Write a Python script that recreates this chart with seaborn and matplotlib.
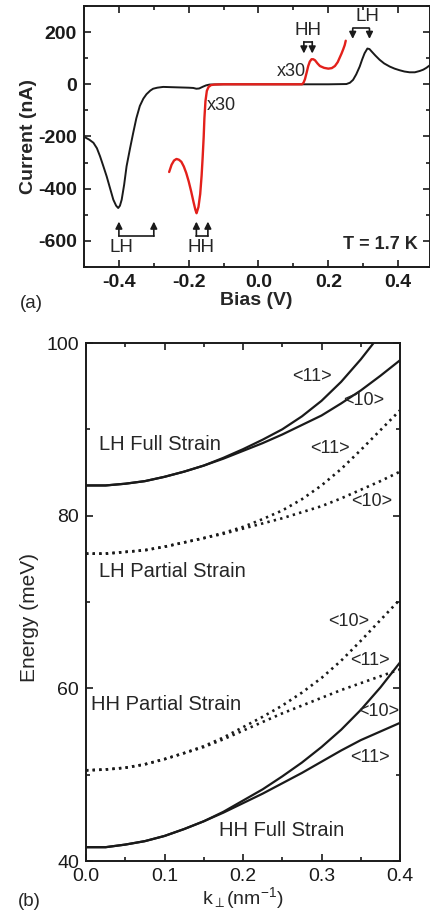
import numpy as np
import pandas as pd
import matplotlib
matplotlib.use('Agg')
import matplotlib.pyplot as plt
from matplotlib.ticker import MultipleLocator, FormatStrFormatter
import seaborn as sns

# ---- panel (a): I-V curves ----
bias_black = [-0.500, -0.485, -0.473, -0.463, -0.454, -0.445, -0.435, -0.425, -0.416, -0.408,
              -0.402, -0.397, -0.392, -0.385, -0.378, -0.368, -0.359, -0.350, -0.340, -0.330,
              -0.321, -0.310, -0.302, -0.290, -0.273, -0.250, -0.225, -0.200, -0.187, -0.178,
              -0.170, -0.159, -0.150, -0.140, -0.100, 0.000, 0.100, 0.200, 0.252, 0.262,
              0.271, 0.280, 0.290, 0.297, 0.304, 0.312, 0.318, 0.324, 0.335, 0.347,
              0.360, 0.376, 0.390, 0.404, 0.418, 0.433, 0.448, 0.462, 0.472, 0.481, 0.490]
current_black = [-201, -212, -224, -245, -276, -312, -353, -400, -442, -465,
                 -474, -465, -442, -385, -314, -245, -186, -130, -83, -55,
                 -38, -24, -17, -13, -10, -11, -12, -13, -14, -17,
                 -16, -9, -4, -1, 0, 0, 0, 0, 1, 6,
                 17, 38, 68, 95, 119, 137, 135, 126, 110, 94,
                 80, 68, 60, 54, 49, 46, 46, 51, 56, 63, 72]

bias_red = [-0.256, -0.249, -0.242, -0.235, -0.228, -0.221, -0.214, -0.207, -0.200, -0.193,
            -0.186, -0.181, -0.1775, -0.172, -0.167, -0.163, -0.160, -0.157, -0.155, -0.152,
            -0.148, -0.143, -0.136, -0.126, -0.100, 0.000, 0.100, 0.125, 0.129, 0.133,
            0.138, 0.1425, 0.147, 0.152, 0.157, 0.162, 0.169, 0.176, 0.188, 0.200,
            0.210, 0.219, 0.227, 0.233, 0.238, 0.243, 0.247, 0.250]
current_red = [-336, -308, -292, -286, -289, -297, -315, -340, -372, -410,
               -452, -480, -494, -470, -420, -350, -280, -200, -130, -65,
               -25, -10, -3, -1, 0, 0, 0, 0, 6, 19,
               45, 70, 87, 96, 96, 92, 80, 70, 63, 60,
               62, 70, 85, 103, 118, 135, 150, 167]

# ---- panel (b): dispersion ----
k_perp = [0.0, 0.025, 0.05, 0.075, 0.1, 0.125, 0.15, 0.175, 0.2, 0.225,
          0.25, 0.275, 0.3, 0.325, 0.35, 0.375, 0.4]
lh_full_10 = [83.5, 83.5, 83.7, 84.0, 84.5, 85.1, 85.8, 86.6, 87.5, 88.4,
              89.4, 90.5, 91.6, 93.0, 94.5, 96.2, 98.0]
lh_full_11 = [83.5, 83.5, 83.7, 84.0, 84.5, 85.1, 85.8, 86.7, 87.7, 88.8,
              90.0, 91.5, 93.3, 95.5, 98.1, 101.0, 104.0]
lh_part_10 = [75.6, 75.6, 75.8, 76.0, 76.4, 76.9, 77.4, 77.9, 78.5, 79.1,
              79.7, 80.4, 81.1, 82.0, 83.0, 84.0, 85.1]
lh_part_11 = [75.6, 75.6, 75.8, 76.0, 76.4, 76.9, 77.4, 78.0, 78.7, 79.6,
              80.6, 81.9, 83.5, 85.4, 87.6, 89.9, 92.2]
hh_part_10 = [50.5, 50.6, 50.8, 51.2, 51.8, 52.5, 53.3, 54.3, 55.5, 56.7,
              58.0, 59.5, 61.2, 63.2, 65.5, 67.9, 70.3]
hh_part_11 = [50.5, 50.6, 50.8, 51.2, 51.8, 52.5, 53.2, 54.1, 55.1, 56.1,
              57.1, 58.0, 58.9, 59.8, 60.6, 61.4, 62.2]
hh_full_10 = [41.6, 41.6, 41.9, 42.3, 42.9, 43.7, 44.6, 45.7, 47.0, 48.3,
              49.8, 51.4, 53.2, 55.2, 57.5, 60.1, 63.0]
hh_full_11 = [41.6, 41.6, 41.9, 42.3, 42.9, 43.7, 44.6, 45.6, 46.7, 47.8,
              49.0, 50.2, 51.5, 52.8, 54.0, 55.0, 56.0]

sns.set_theme(style='ticks')
plt.rcParams['font.family'] = ['Liberation Sans', 'DejaVu Sans']
plt.rcParams['axes.unicode_minus'] = False
plt.rcParams['mathtext.fontset'] = 'custom'
plt.rcParams['mathtext.rm'] = 'Liberation Sans'
plt.rcParams['mathtext.it'] = 'Liberation Sans'

fig = plt.figure(figsize=(4.30, 9.16), dpi=100)
ax1 = fig.add_axes([84 / 430, 1 - 267 / 916, 345.5 / 430, 261 / 916])
ax2 = fig.add_axes([86 / 430, 1 - 861 / 916, 314 / 430, 518 / 916])

RED = '#e3201b'

# ---------- (a) ----------
sns.lineplot(x=bias_black, y=current_black, ax=ax1, color='k', lw=1.4, sort=False)
sns.lineplot(x=bias_red, y=current_red, ax=ax1, color=RED, lw=1.7, sort=False)
ax1.set_xlim(-0.5, 0.49)
ax1.set_ylim(-700, 300)
ax1.xaxis.set_major_locator(MultipleLocator(0.2))
ax1.xaxis.set_minor_locator(MultipleLocator(0.1))
ax1.xaxis.set_major_formatter(FormatStrFormatter('%.1f'))
ax1.yaxis.set_major_locator(MultipleLocator(200))
ax1.yaxis.set_minor_locator(MultipleLocator(100))
ax1.set_xlabel('Bias (V)', fontsize=14, fontweight='bold', labelpad=1)
ax1.set_ylabel('Current (nA)', fontsize=14, fontweight='bold')
ax1.yaxis.set_label_coords(-0.135, 0.5)
for lab in ax1.get_xticklabels() + ax1.get_yticklabels():
    lab.set_fontweight('bold')


def arrow(ax, x, y0, y1):
    ax.annotate('', xy=(x, y1), xytext=(x, y0),
                arrowprops=dict(arrowstyle='-|>', color='k', lw=1.2,
                                mutation_scale=10, shrinkA=0, shrinkB=0))


def bracket(ax, xa, xb, ybar, ytip, label, xlab, ylab):
    ax.plot([xa, xb], [ybar, ybar], color='k', lw=1.2)
    arrow(ax, xa, ybar, ytip)
    arrow(ax, xb, ybar, ytip)
    ax.text(xlab, ylab, label, ha='center', va='center', fontsize=13.5)


bracket(ax1, 0.130, 0.154, 163, 118, 'HH', 0.142, 205)
bracket(ax1, 0.270, 0.318, 214, 174, 'LH', 0.312, 258)
bracket(ax1, -0.4, -0.3, -582, -526, 'LH', -0.393, -625)
bracket(ax1, -0.178, -0.145, -582, -526, 'HH', -0.166, -625)
ax1.text(0.136, 50, 'x30', ha='right', va='center', fontsize=13)
ax1.text(-0.148, -83, 'x30', ha='left', va='center', fontsize=13)
ax1.text(0.455, -612, 'T = 1.7 K', ha='right', va='center', fontsize=13, fontweight='bold')

# ---------- (b) ----------
dot = (0, (0.9, 1.6))
for yy in [lh_full_10, lh_full_11, hh_full_10, hh_full_11]:
    sns.lineplot(x=k_perp, y=yy, ax=ax2, color='k', lw=1.6)
for yy in [lh_part_10, lh_part_11, hh_part_10, hh_part_11]:
    sns.lineplot(x=k_perp, y=yy, ax=ax2, color='k', lw=1.9, linestyle=dot)
ax2.set_xlim(0, 0.4)
ax2.set_ylim(40, 100)
ax2.xaxis.set_major_locator(MultipleLocator(0.1))
ax2.xaxis.set_minor_locator(MultipleLocator(0.05))
ax2.xaxis.set_major_formatter(FormatStrFormatter('%.1f'))
ax2.yaxis.set_major_locator(MultipleLocator(20))
ax2.yaxis.set_minor_locator(MultipleLocator(10))
ax2.set_xlabel(r'k$_{\perp}$(nm$^{\mathregular{-1}}$)', fontsize=14, labelpad=0)
ax2.set_ylabel('Energy (meV)', fontsize=15)
ax2.yaxis.set_label_coords(-0.15, 0.47)

ax2.text(0.016, 88.3, 'LH Full Strain', fontsize=14.5, va='center')
ax2.text(0.017, 73.5, 'LH Partial Strain', fontsize=14.5, va='center')
ax2.text(0.007, 58.1, 'HH Partial Strain', fontsize=14.5, va='center')
ax2.text(0.169, 43.5, 'HH Full Strain', fontsize=14.5, va='center')
for kx, ey, s in [(0.263, 96.1, '<11>'), (0.328, 93.3, '<10>'),
                  (0.285, 87.8, '<11>'), (0.338, 81.6, '<10>'),
                  (0.309, 67.7, '<10>'), (0.336, 63.2, '<11>'),
                  (0.347, 57.3, '<10>'), (0.336, 52.0, '<11>')]:
    ax2.text(kx, ey, s, fontsize=13, va='center')

for ax in (ax1, ax2):
    ax.tick_params(which='both', direction='in', top=True, right=True,
                   width=1.2, colors='k', labelsize=14, pad=5)
    ax.tick_params(which='major', length=5)
    ax.tick_params(which='minor', length=3)
    for sp in ax.spines.values():
        sp.set_linewidth(1.4)
        sp.set_color('k')

fig.text(20 / 430, 1 - 303 / 916, '(a)', fontsize=13.5, va='center')
fig.text(18 / 430, 1 - 902 / 916, '(b)', fontsize=13.5, va='center')

fig.savefig('out.png', dpi=100)
